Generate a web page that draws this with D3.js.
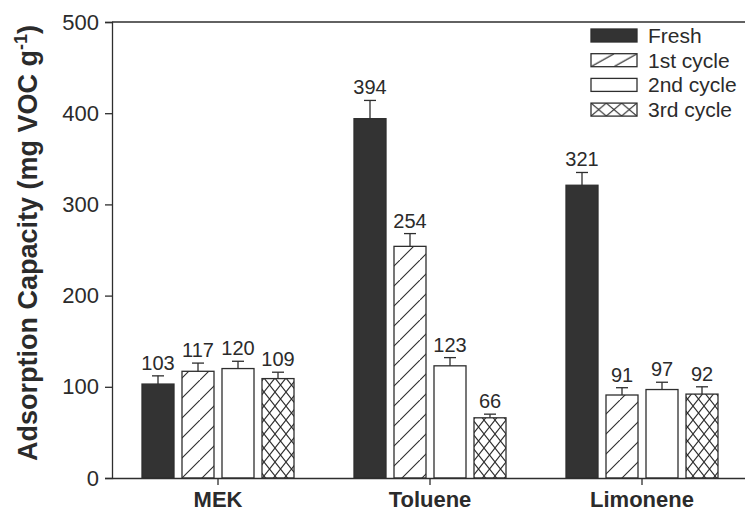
<!DOCTYPE html>
<html>
<head>
<meta charset="utf-8">
<script src="https://cdn.jsdelivr.net/npm/d3@7"></script>
<style>
  body { margin: 0; background: #fff; }
  svg text { font-family: "Liberation Sans", Arial, sans-serif; fill: #2b2b2b; }
</style>
</head>
<body>
<svg id="chart" width="745" height="511"></svg>
<script>
// data
const categories = ['MEK', 'Toluene', 'Limonene'];
const series = ['Fresh', '1st cycle', '2nd cycle', '3rd cycle'];
const freshValues = [103, 394, 321];
const cycle1Values = [117, 254, 91];
const cycle2Values = [120, 123, 97];
const cycle3Values = [109, 66, 92];
const freshErr = [9, 20, 14];
const cycle1Err = [9, 14, 8];
const cycle2Err = [8, 9, 8];
const cycle3Err = [7, 4, 8];
const yTicks = [0, 100, 200, 300, 400, 500];

const valuesBySeries = [freshValues, cycle1Values, cycle2Values, cycle3Values];
const errBySeries = [freshErr, cycle1Err, cycle2Err, cycle3Err];

const rows = [];
categories.forEach((cat, ci) => {
  series.forEach((s, si) => {
    rows.push({ cat, series: s, value: valuesBySeries[si][ci], err: errBySeries[si][ci] });
  });
});

const ink = '#2e2e2e';
const svg = d3.select('#chart');
const margin = { top: 22, right: -3, bottom: 33, left: 112 };
const W = 745, H = 511;

const x = d3.scaleBand().domain(categories).range([margin.left, W - margin.right]).padding(0);
const xInner = d3.scaleBand().domain(series).range([0, x.bandwidth()])
  .paddingInner(0.2).paddingOuter(0.75);
const y = d3.scaleLinear().domain([0, 500]).range([H - margin.bottom, margin.top]);

// hatch patterns
const defs = svg.append('defs');
function hatch(id, w, h) {
  const p = defs.append('pattern').attr('id', id).attr('patternUnits', 'userSpaceOnUse')
    .attr('width', w).attr('height', h);
  p.append('rect').attr('width', w).attr('height', h).attr('fill', '#fff');
  p.append('path').attr('d', `M0,${h} L${w},0 M${-w},${h} L0,0 M${w},${2 * h} L${2 * w},${h}`)
    .attr('stroke', ink).attr('stroke-width', 1.1);
}
function cross(id, w, h) {
  const p = defs.append('pattern').attr('id', id).attr('patternUnits', 'userSpaceOnUse')
    .attr('width', w).attr('height', h);
  p.append('rect').attr('width', w).attr('height', h).attr('fill', '#fff');
  p.append('path').attr('d', `M0,0 L${w},${h} M0,${h} L${w},0`)
    .attr('stroke', ink).attr('stroke-width', 1.1);
}
hatch('hatch', 20, 20);
cross('cross', 11, 14);
hatch('hatchLeg', 23, 13);
cross('crossLeg', 15.3, 13);

const fills = { 'Fresh': '#333', '1st cycle': 'url(#hatch)', '2nd cycle': '#fff', '3rd cycle': 'url(#cross)' };
const legFills = { 'Fresh': '#333', '1st cycle': 'url(#hatchLeg)', '2nd cycle': '#fff', '3rd cycle': 'url(#crossLeg)' };

// bars
const bx = d => x(d.cat) + xInner(d.series);
svg.append('g').selectAll('rect')
  .data(rows)
  .join('rect')
  .attr('x', bx)
  .attr('y', d => y(d.value))
  .attr('width', xInner.bandwidth())
  .attr('height', d => y(0) - y(d.value))
  .attr('fill', d => fills[d.series])
  .attr('stroke', ink)
  .attr('stroke-width', 1.3);

// error bars
const eg = svg.append('g').attr('stroke', ink).attr('stroke-width', 1.3);
eg.selectAll('line.v').data(rows).join('line').attr('class', 'v')
  .attr('x1', d => bx(d) + xInner.bandwidth() / 2).attr('x2', d => bx(d) + xInner.bandwidth() / 2)
  .attr('y1', d => y(d.value)).attr('y2', d => y(d.value + d.err));
eg.selectAll('line.c').data(rows).join('line').attr('class', 'c')
  .attr('x1', d => bx(d) + xInner.bandwidth() / 2 - 6).attr('x2', d => bx(d) + xInner.bandwidth() / 2 + 6)
  .attr('y1', d => y(d.value + d.err)).attr('y2', d => y(d.value + d.err));

// value labels
svg.append('g').selectAll('text').data(rows).join('text')
  .attr('x', d => bx(d) + xInner.bandwidth() / 2)
  .attr('y', d => y(d.value + d.err) - 6)
  .attr('text-anchor', 'middle')
  .style('font-size', '20px')
  .text(d => d.value);

// axes
const yAxis = svg.append('g').attr('transform', `translate(${margin.left},0)`)
  .call(d3.axisLeft(y).tickValues(yTicks).tickSize(7).tickPadding(6));
yAxis.selectAll('text').style('font-size', '22px').attr('fill', '#2b2b2b');
yAxis.select('.domain').attr('stroke', ink).attr('stroke-width', 1.3);
yAxis.selectAll('.tick line').attr('stroke', ink).attr('stroke-width', 1.3);

const xAxis = svg.append('g').attr('transform', `translate(0,${y(0)})`)
  .call(d3.axisBottom(x).tickSize(7).tickSizeOuter(0).tickPadding(6));
xAxis.select('.domain').attr('stroke', ink).attr('stroke-width', 1.3);
xAxis.selectAll('.tick line').attr('stroke', ink).attr('stroke-width', 1.3);
xAxis.selectAll('text').style('font-size', '22px').style('font-weight', 'bold').attr('fill', '#2b2b2b');

// top frame line
svg.append('line')
  .attr('x1', margin.left).attr('x2', W)
  .attr('y1', y(500)).attr('y2', y(500))
  .attr('stroke', ink).attr('stroke-width', 1.3);

// y label
const yl = svg.append('text')
  .attr('transform', 'translate(37,243) rotate(-90)')
  .attr('text-anchor', 'middle')
  .style('font-size', '27px').style('font-weight', 'bold');
yl.append('tspan').text('Adsorption Capacity (mg VOC g');
yl.append('tspan').attr('dy', -10).style('font-size', '18px').text('-1');
yl.append('tspan').attr('dy', 10).text(')');

// legend
const leg = svg.append('g').attr('transform', 'translate(591,29)');
series.forEach((s, i) => {
  const r = leg.append('g').attr('transform', `translate(0,${i * 24.7})`);
  r.append('rect').attr('width', 46).attr('height', 13)
    .attr('fill', legFills[s]).attr('stroke', ink).attr('stroke-width', 1.3);
  r.append('text').attr('x', 57).attr('y', 14).style('font-size', '21px').text(s);
});
</script>
</body>
</html>
